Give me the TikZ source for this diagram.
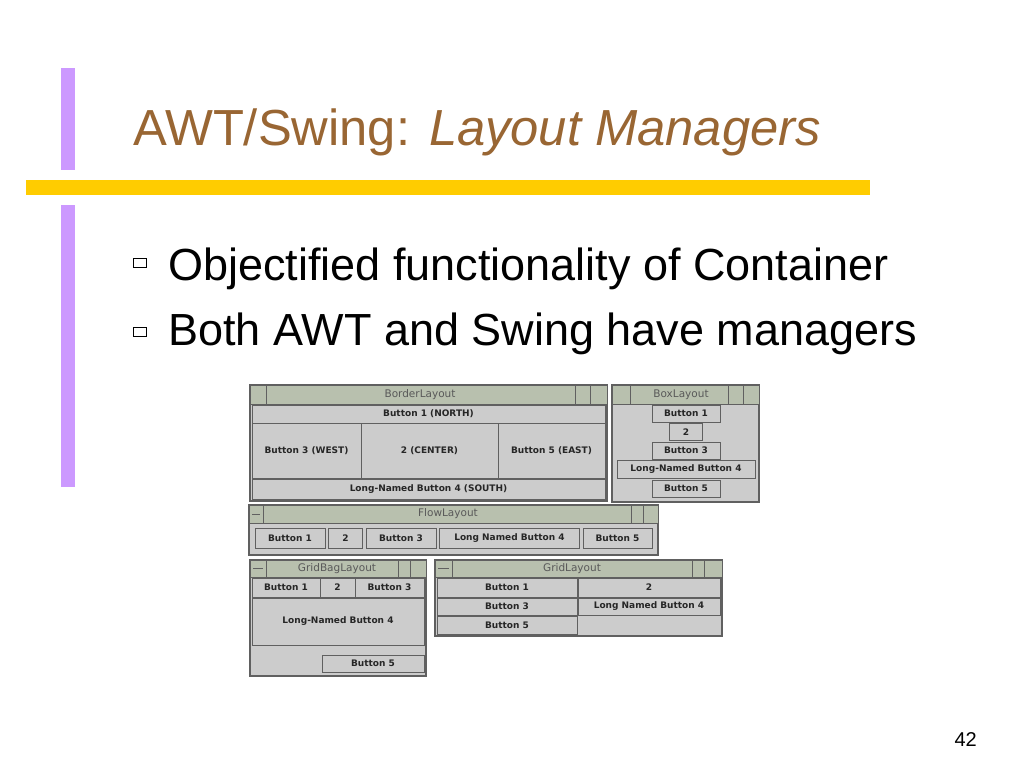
\documentclass[tikz,border=0pt]{standalone}
\usepackage{fontspec}
\setmainfont{Liberation Sans}
\newfontfamily\guifont{DejaVu Sans}
\usetikzlibrary{positioning}

\definecolor{titlebrown}{RGB}{153,102,51}
\definecolor{barpurple}{RGB}{204,153,255}
\definecolor{baryellow}{RGB}{255,204,0}
\definecolor{wingray}{RGB}{204,204,204}
\definecolor{bargreen}{RGB}{184,192,174}
\definecolor{edgegray}{RGB}{96,96,96}

\tikzstyle{winframe} = [draw=edgegray, fill=wingray, line width=1.5pt]
\tikzstyle{titlebar} = [draw=edgegray, fill=bargreen, line width=0.8pt]
\tikzstyle{widget} = [draw=edgegray, fill=bargreen, line width=0.8pt]
\tikzstyle{wintitle} = [inner sep=0pt, text=black!65, font=\guifont\fontsize{10.5}{12}\selectfont]
\tikzstyle{button} = [rectangle, inner sep=0pt, outer sep=0pt, draw=edgegray, fill=wingray, line width=0.8pt,
  font=\guifont\bfseries\fontsize{9}{10}\selectfont, text=black!85,
  path picture={\draw[white, line width=1.6pt] (path picture bounding box.south west) -- (path picture bounding box.north west) -- (path picture bounding box.north east);}]
\tikzstyle{bulletbox} = [rectangle, draw=black, line width=1.3pt, minimum width=13, minimum height=9, inner sep=0pt]
\tikzstyle{bodytext} = [anchor=base west, inner sep=0pt, font=\fontsize{45}{54}\selectfont]

\begin{document}
\begin{tikzpicture}[x=1pt, y=-1pt]

  \useasboundingbox [fill=white] (0,0) rectangle (1024,768);

  % --- slide frame --- %

  \fill [barpurple] (61,68) rectangle (75,170);
  \fill [baryellow] (26,180) rectangle (870,195);
  \fill [barpurple] (61,205) rectangle (75,487);

  \node (title) [anchor=base west, inner sep=0pt, text=titlebrown, font=\fontsize{50.7}{60}\selectfont] at (133,145) {AWT/Swing: \textit{Layout Managers}};

  \node (q1) [bulletbox] at (140,263) {};
  \node (q2) [bulletbox] at (140,332) {};
  \node (p1) [bodytext] at (168,280) {Objectified functionality of Container};
  \node (p2) [bodytext] at (168,345) {Both AWT and Swing have managers};

  \node (page) [anchor=base east, inner sep=0pt, font=\fontsize{20}{24}\selectfont] at (977,746) {42};

  % --- BorderLayout --- %

  \draw [winframe] (250,385) rectangle (607,501);
  \draw [titlebar] (250,385) rectangle (607,404);
  \draw [widget] (250,385) rectangle (266,404) (575,385) rectangle (590,404) (590,385) rectangle (607,404);
  \node (t1) [wintitle] at (420,395) {BorderLayout};

  \node (bl1) [button, minimum width=353, minimum height=18] at (428.5,414) {Button 1 (NORTH)};
  \node (bl3) [button, minimum width=109, minimum height=55] at (306.5,451) {Button 3 (WEST)};
  \node (bl2) [button, minimum width=137, minimum height=55, right=0pt of bl3] {2 (CENTER)};
  \node (bl5) [button, minimum width=107, minimum height=55, right=0pt of bl2] {Button 5 (EAST)};
  \node (bl4) [button, minimum width=353, minimum height=20] at (428.5,489) {Long-Named Button 4 (SOUTH)};

  % --- BoxLayout --- %

  \draw [winframe] (612,385) rectangle (759,502);
  \draw [titlebar] (612,385) rectangle (759,404);
  \draw [widget] (612,385) rectangle (630,404) (728,385) rectangle (743,404) (743,385) rectangle (759,404);
  \node (t2) [wintitle] at (681,395) {BoxLayout};

  \node (bx1) [button, minimum width=68, minimum height=17] at (686,413.5) {Button 1};
  \node (bx2) [button, minimum width=33, minimum height=17, below=1.5pt of bx1] {2};
  \node (bx3) [button, minimum width=68, minimum height=17, below=1.5pt of bx2] {Button 3};
  \node (bx4) [button, minimum width=138, minimum height=18, below=1.5pt of bx3] {Long-Named Button 4};
  \node (bx5) [button, minimum width=68, minimum height=17, below=1.5pt of bx4] {Button 5};

  % --- FlowLayout --- %

  \draw [winframe] (249,505) rectangle (658,555);
  \draw [titlebar] (249,505) rectangle (658,523);
  \draw [widget] (249,505) rectangle (263,523) (631,505) rectangle (643,523) (643,505) rectangle (658,523);
  \draw [edgegray, line width=0.8pt] (252,514) -- (260,514);
  \node (t3) [wintitle] at (448,514) {FlowLayout};

  \node (fl1) [button, minimum width=70, minimum height=20] at (290,538) {Button 1};
  \node (fl2) [button, minimum width=34, minimum height=20, right=3.5pt of fl1] {2};
  \node (fl3) [button, minimum width=70, minimum height=20, right=3.5pt of fl2] {Button 3};
  \node (fl4) [button, minimum width=140, minimum height=20, right=3.5pt of fl3] {Long Named Button 4};
  \node (fl5) [button, minimum width=69, minimum height=20, right=3.5pt of fl4] {Button 5};

  % --- GridBagLayout --- %

  \draw [winframe] (250,560) rectangle (426,676);
  \draw [titlebar] (250,560) rectangle (426,577);
  \draw [widget] (250,560) rectangle (266,577) (398,560) rectangle (410,577) (410,560) rectangle (426,577);
  \draw [edgegray, line width=0.8pt] (253,568.5) -- (263,568.5);
  \node (t4) [wintitle] at (337,569) {GridBagLayout};

  \node (gb1) [button, minimum width=68, minimum height=19] at (286,587.5) {Button 1};
  \node (gb2) [button, minimum width=35, minimum height=19, right=0pt of gb1] {2};
  \node (gb3) [button, minimum width=69, minimum height=19, right=0pt of gb2] {Button 3};
  \node (gb4) [button, minimum width=172, minimum height=47] at (338,621.5) {Long-Named Button 4};
  \node (gb5) [button, minimum width=102, minimum height=17] at (373,663.5) {Button 5};

  % --- GridLayout --- %

  \draw [winframe] (435,560) rectangle (722,636);
  \draw [titlebar] (435,560) rectangle (722,577);
  \draw [widget] (435,560) rectangle (452,577) (692,560) rectangle (704,577) (704,560) rectangle (722,577);
  \draw [edgegray, line width=0.8pt] (438,568.5) -- (449,568.5);
  \node (t5) [wintitle] at (572,569) {GridLayout};

  \node (gl1) [button, minimum width=140, minimum height=19] at (507,587.5) {Button 1};
  \node (gl2) [button, minimum width=142, minimum height=19, right=1pt of gl1] {2};
  \node (gl3) [button, minimum width=140, minimum height=17, below=1pt of gl1] {Button 3};
  \node (gl4) [button, minimum width=142, minimum height=17, right=1pt of gl3] {Long Named Button 4};
  \node (gl5) [button, minimum width=140, minimum height=18, below=1pt of gl3] {Button 5};

\end{tikzpicture}
\end{document}
